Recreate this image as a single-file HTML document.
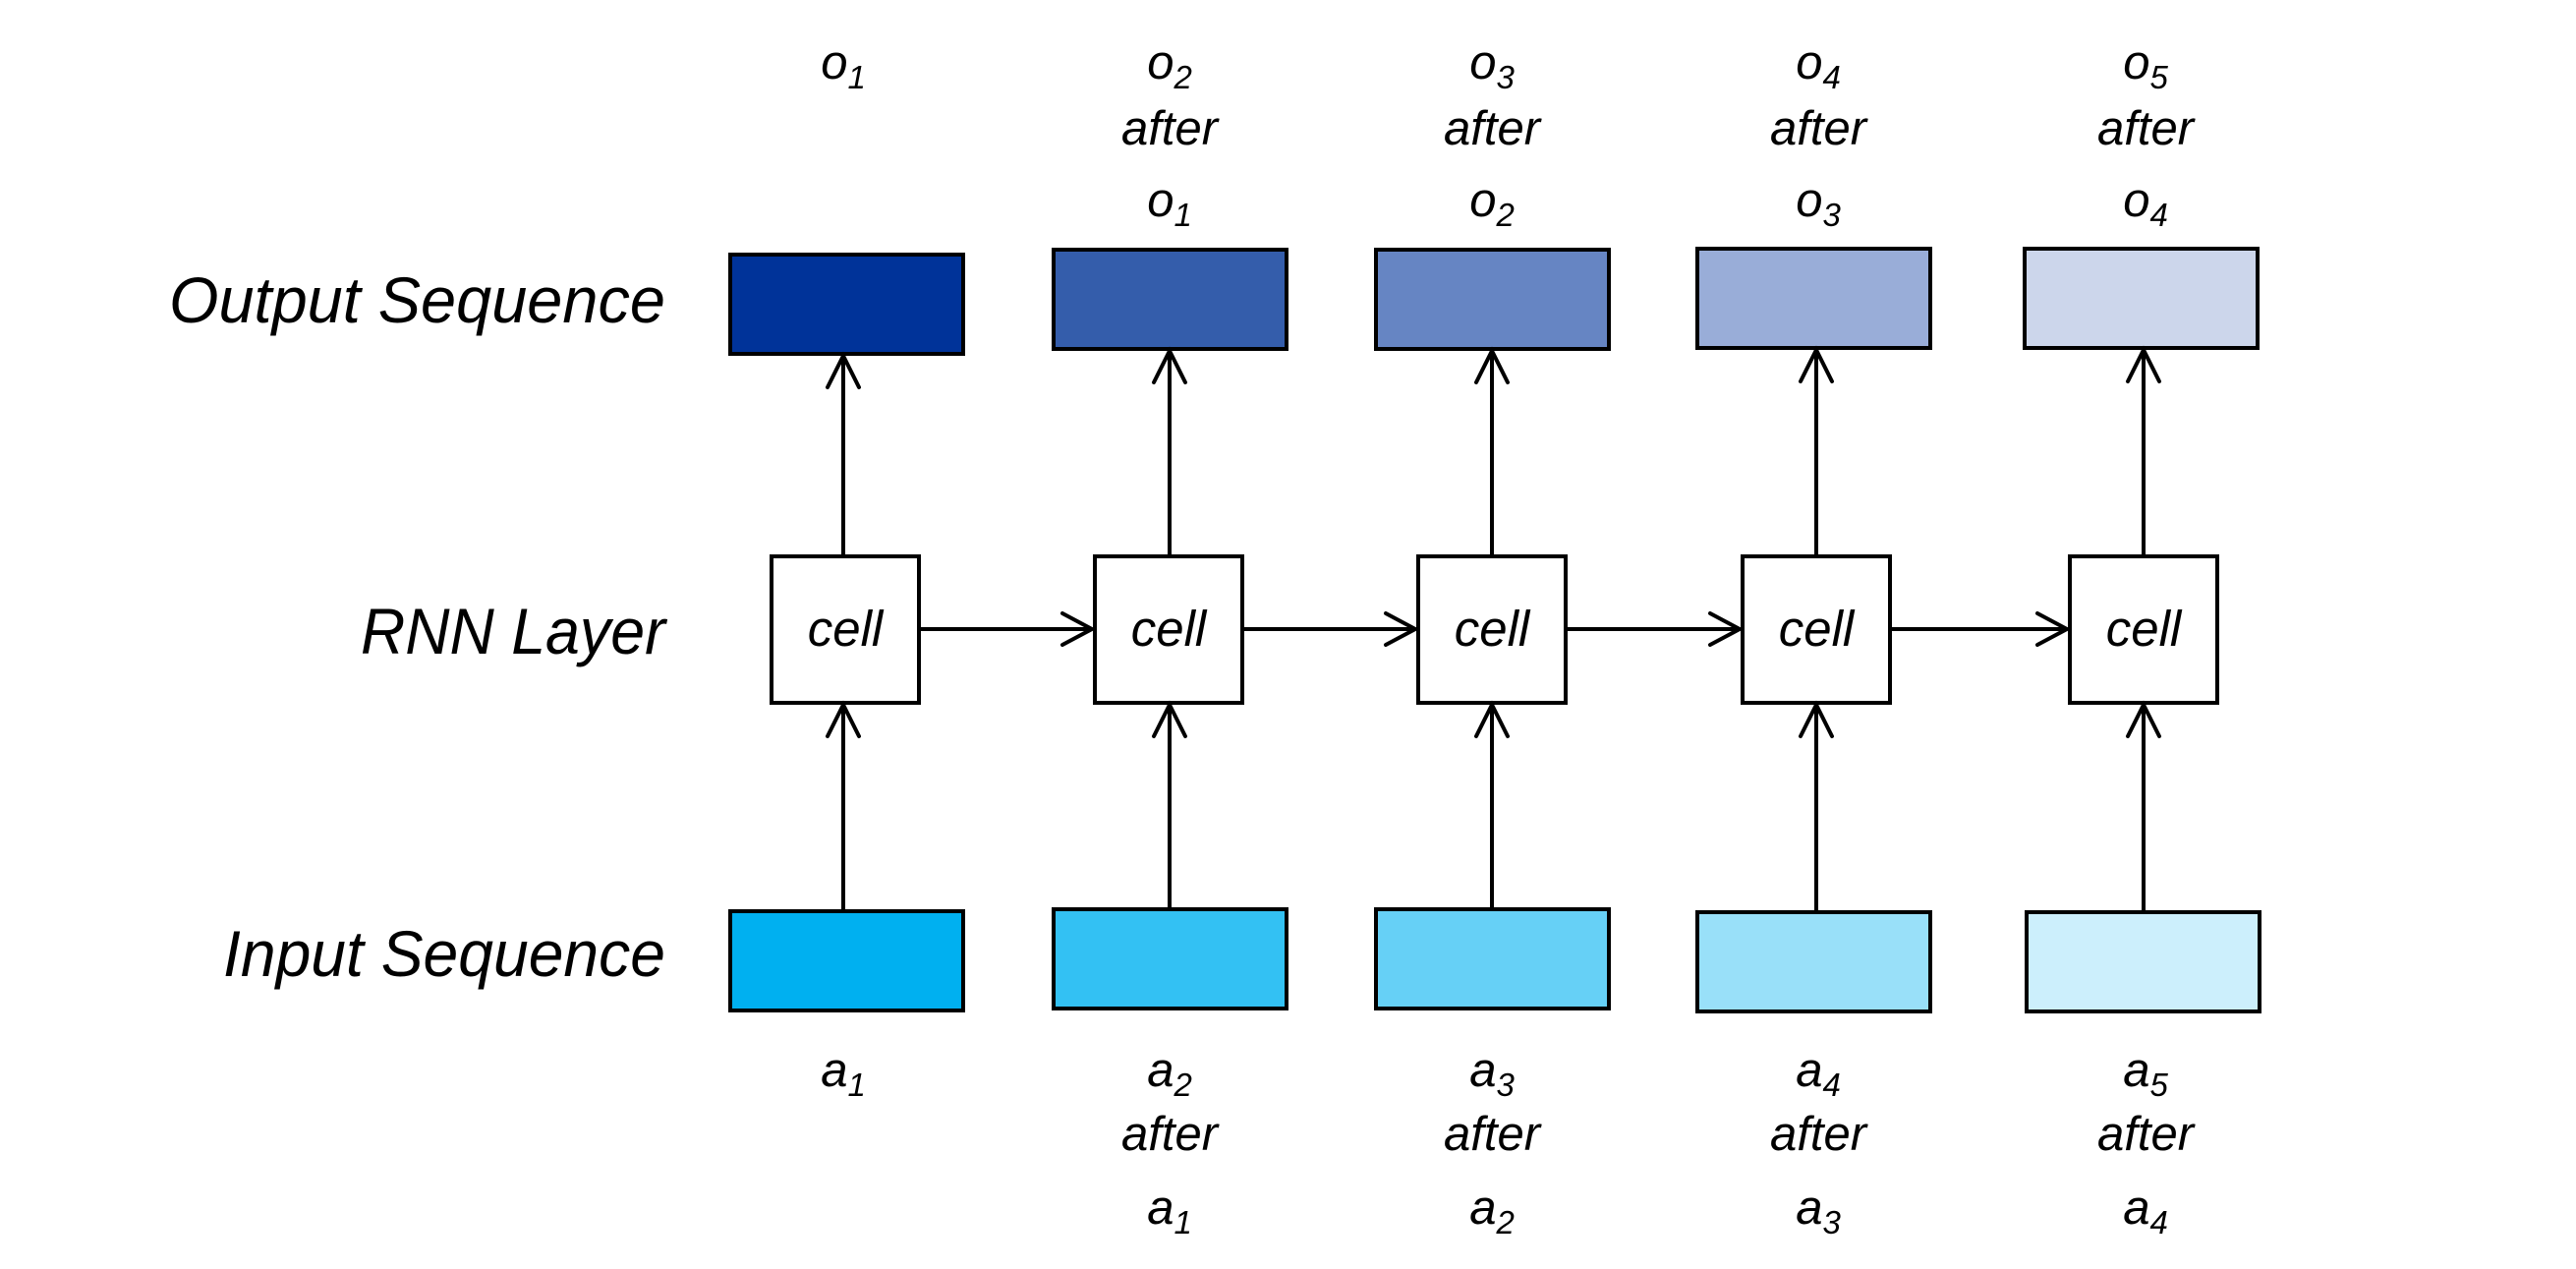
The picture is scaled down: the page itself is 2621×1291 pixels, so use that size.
<!DOCTYPE html>
<html><head><meta charset="utf-8"><style>html,body{margin:0;padding:0;background:#fff}svg{display:block}</style></head>
<body>
<svg width="2621" height="1291" viewBox="0 0 2621 1291" xmlns="http://www.w3.org/2000/svg" font-family="Liberation Sans, sans-serif" font-style="italic">
<rect width="2621" height="1291" fill="#fff"/>
<g font-size="66" fill="#000" text-anchor="end">
<text x="677" y="328" textLength="505" lengthAdjust="spacingAndGlyphs">Output Sequence</text>
<text x="677" y="665" textLength="310" lengthAdjust="spacingAndGlyphs">RNN Layer</text>
<text x="677" y="993" textLength="450" lengthAdjust="spacingAndGlyphs">Input Sequence</text>
</g>
<g stroke="#000" stroke-width="4">
<rect x="743" y="259" width="237" height="101" fill="#003399"/>
<rect x="1072" y="254" width="237" height="101" fill="#345DAB"/>
<rect x="1400" y="254" width="237" height="101" fill="#6685C3"/>
<rect x="1727" y="253" width="237" height="101" fill="#99ADD8"/>
<rect x="2060" y="253" width="237" height="101" fill="#CCD6EB"/>
<rect x="743" y="927" width="237" height="101" fill="#00B0F0"/>
<rect x="1072" y="925" width="237" height="101" fill="#33C1F3"/>
<rect x="1400" y="925" width="237" height="101" fill="#66D0F6"/>
<rect x="1727" y="928" width="237" height="101" fill="#99E0F9"/>
<rect x="2062" y="928" width="237" height="101" fill="#CCEFFC"/>
<rect x="785" y="566" width="150" height="149" fill="#fff"/>
<rect x="1114" y="566" width="150" height="149" fill="#fff"/>
<rect x="1443" y="566" width="150" height="149" fill="#fff"/>
<rect x="1773" y="566" width="150" height="149" fill="#fff"/>
<rect x="2106" y="566" width="150" height="149" fill="#fff"/>
</g>
<g stroke="#000" stroke-width="4" fill="none" stroke-linecap="round">
<path d="M858 566V362M842 394L858 362L874 394"/>
<path d="M1190 566V357M1174 389L1190 357L1206 389"/>
<path d="M1518 566V357M1502 389L1518 357L1534 389"/>
<path d="M1848 566V356M1832 388L1848 356L1864 388"/>
<path d="M2181 566V356M2165 388L2181 356L2197 388"/>
<path d="M858 925V717M842 749L858 717L874 749"/>
<path d="M1190 923V717M1174 749L1190 717L1206 749"/>
<path d="M1518 923V717M1502 749L1518 717L1534 749"/>
<path d="M1848 926V717M1832 749L1848 717L1864 749"/>
<path d="M2181 926V717M2165 749L2181 717L2197 749"/>
<path d="M937 640H1111M1081 624L1111 640L1081 656"/>
<path d="M1266 640H1440M1410 624L1440 640L1410 656"/>
<path d="M1595 640H1770M1740 624L1770 640L1740 656"/>
<path d="M1925 640H2103M2073 624L2103 640L2073 656"/>
</g>
<g font-size="51" fill="#000" text-anchor="middle">
<text x="860" y="657">cell</text>
<text x="1189" y="657">cell</text>
<text x="1518" y="657">cell</text>
<text x="1848" y="657">cell</text>
<text x="2181" y="657">cell</text>
</g>
<g font-size="49" fill="#000" text-anchor="middle">
<text x="858" y="80">o<tspan font-size="33" dy="10">1</tspan></text>
<text x="1190" y="80">o<tspan font-size="33" dy="10">2</tspan></text>
<text x="1190" y="147">after</text>
<text x="1190" y="220">o<tspan font-size="33" dy="10">1</tspan></text>
<text x="1518" y="80">o<tspan font-size="33" dy="10">3</tspan></text>
<text x="1518" y="147">after</text>
<text x="1518" y="220">o<tspan font-size="33" dy="10">2</tspan></text>
<text x="1850" y="80">o<tspan font-size="33" dy="10">4</tspan></text>
<text x="1850" y="147">after</text>
<text x="1850" y="220">o<tspan font-size="33" dy="10">3</tspan></text>
<text x="2183" y="80">o<tspan font-size="33" dy="10">5</tspan></text>
<text x="2183" y="147">after</text>
<text x="2183" y="220">o<tspan font-size="33" dy="10">4</tspan></text>
<text x="858" y="1105">a<tspan font-size="33" dy="10">1</tspan></text>
<text x="1190" y="1105">a<tspan font-size="33" dy="10">2</tspan></text>
<text x="1190" y="1170">after</text>
<text x="1190" y="1245">a<tspan font-size="33" dy="10">1</tspan></text>
<text x="1518" y="1105">a<tspan font-size="33" dy="10">3</tspan></text>
<text x="1518" y="1170">after</text>
<text x="1518" y="1245">a<tspan font-size="33" dy="10">2</tspan></text>
<text x="1850" y="1105">a<tspan font-size="33" dy="10">4</tspan></text>
<text x="1850" y="1170">after</text>
<text x="1850" y="1245">a<tspan font-size="33" dy="10">3</tspan></text>
<text x="2183" y="1105">a<tspan font-size="33" dy="10">5</tspan></text>
<text x="2183" y="1170">after</text>
<text x="2183" y="1245">a<tspan font-size="33" dy="10">4</tspan></text>
</g>
</svg>
</body></html>
